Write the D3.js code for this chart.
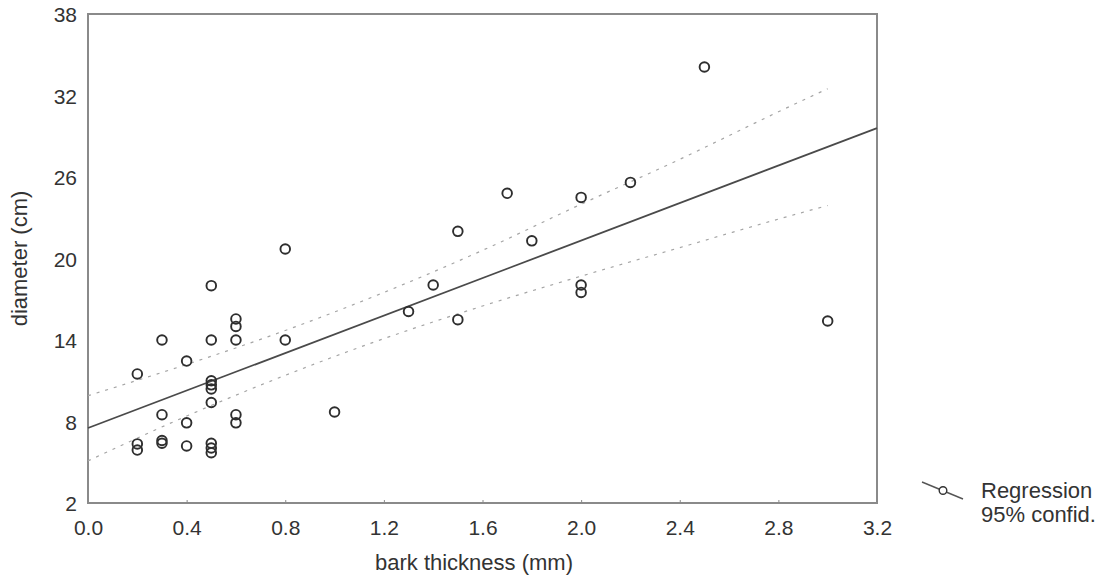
<!DOCTYPE html>
<html lang="en">
<head>
  <meta charset="utf-8">
  <title>diameter vs bark thickness</title>
  <script src="https://d3js.org/d3.v7.min.js"></script>
  <style>
    body { margin: 0; background: #fff; font-family: "Liberation Sans", Arial, sans-serif; }
    text.tick-label { font-size: 21px; fill: #333; }
    text.axis-title { font-size: 22px; fill: #333; }
    text.legend-text { font-size: 22px; fill: #333; }
  </style>
</head>
<body>
<svg id="chart" width="1108" height="581"></svg>
<script>
  // observations: bark thickness (mm) and diameter (cm)
  const barkThickness = [
    0.2, 0.2, 0.2,
    0.3, 0.3, 0.3, 0.3,
    0.4, 0.4, 0.4,
    0.5, 0.5, 0.5, 0.5, 0.5, 0.5, 0.5, 0.5, 0.5,
    0.6, 0.6, 0.6, 0.6, 0.6,
    0.8, 0.8,
    1.0, 1.3, 1.4, 1.5, 1.5, 1.7, 1.8,
    2.0, 2.0, 2.0, 2.2, 2.5, 3.0
  ];
  const diameter = [
    11.5, 6.35, 5.9,
    14.0, 8.5, 6.6, 6.4,
    12.45, 7.9, 6.2,
    18.0, 14.0, 11.0, 10.7, 10.4, 9.4, 6.4, 6.05, 5.7,
    15.55, 15.0, 14.0, 8.5, 7.9,
    20.7, 14.0,
    8.7, 16.1, 18.05, 22.0, 15.5, 24.8, 21.3,
    24.5, 18.05, 17.5, 25.6, 34.1, 15.4
  ];

  // regression line (end points)
  const regX = [0.0, 3.2];
  const regY = [7.52, 29.6];

  // 95% confidence band, read at a few x positions
  const bandX = [0.0, 0.4, 0.8, 1.2, 1.6, 2.0, 2.4, 2.8, 3.0];
  const bandUpper = [9.9, 12.2, 14.7, 17.5, 20.6, 24.0, 27.3, 30.8, 32.5];
  const bandLower = [5.1, 8.4, 11.4, 14.1, 16.5, 18.7, 20.8, 22.9, 23.9];

  const xTicks = [0.0, 0.4, 0.8, 1.2, 1.6, 2.0, 2.4, 2.8, 3.2];
  const yTicks = [2, 8, 14, 20, 26, 32, 38];

  const legendLabels = ["Regression", "95% confid."];

  const margin = { top: 14, right: 231, bottom: 78, left: 88 },
        width = 1108 - margin.left - margin.right,
        height = 581 - margin.top - margin.bottom;

  const svg = d3.select("#chart");
  const g = svg.append("g").attr("transform", `translate(${margin.left},${margin.top})`);

  const x = d3.scaleLinear().domain([0, 3.2]).range([0, width]);
  const y = d3.scaleLinear().domain([2, 38]).range([height, 0]);

  // frame
  g.append("rect")
    .attr("x", 0).attr("y", 0)
    .attr("width", width).attr("height", height)
    .attr("fill", "none")
    .attr("stroke", "#8a8a8a")
    .attr("stroke-width", 2);

  // axes (labels only, the frame draws the lines)
  const xAxis = g.append("g")
    .attr("transform", `translate(0,${height})`)
    .call(d3.axisBottom(x).tickValues(xTicks).tickFormat(d3.format(".1f")).tickSize(3).tickPadding(14));
  xAxis.select(".domain").remove();
  xAxis.selectAll("line").attr("stroke", "#8a8a8a").attr("y2", -3);
  xAxis.selectAll("text").attr("class", "tick-label").attr("dy", "0.71em");
  xAxis.attr("font-size", null).attr("font-family", null);

  const yAxis = g.append("g")
    .call(d3.axisLeft(y).tickValues(yTicks).tickSize(0).tickPadding(11));
  yAxis.select(".domain").remove();
  yAxis.selectAll("text").attr("class", "tick-label").attr("dy", "0.38em");
  yAxis.attr("font-size", null).attr("font-family", null);

  // axis titles
  svg.append("text")
    .attr("class", "axis-title")
    .attr("x", 474)
    .attr("y", 570)
    .attr("text-anchor", "middle")
    .text("bark thickness (mm)");

  svg.append("text")
    .attr("class", "axis-title")
    .attr("transform", `translate(27,${margin.top + y(20)}) rotate(-90)`)
    .attr("text-anchor", "middle")
    .text("diameter (cm)");

  // confidence band
  const bandLine = d3.line().x(d => x(d[0])).y(d => y(d[1])).curve(d3.curveMonotoneX);
  [bandUpper, bandLower].forEach(vals => {
    g.append("path")
      .attr("d", bandLine(bandX.map((v, i) => [v, vals[i]])))
      .attr("fill", "none")
      .attr("stroke", "#a5a5a5")
      .attr("stroke-width", 1.2)
      .attr("stroke-dasharray", "3,6");
  });

  // regression line
  g.append("path")
    .attr("d", d3.line()(regX.map((v, i) => [x(v), y(regY[i])])))
    .attr("fill", "none")
    .attr("stroke", "#4a4a4a")
    .attr("stroke-width", 1.8);

  // points
  g.selectAll("circle.pt")
    .data(barkThickness.map((v, i) => [v, diameter[i]]))
    .enter()
    .append("circle")
    .attr("class", "pt")
    .attr("cx", d => x(d[0]))
    .attr("cy", d => y(d[1]))
    .attr("r", 4.8)
    .attr("fill", "none")
    .attr("stroke", "#2e2e2e")
    .attr("stroke-width", 1.9);

  // legend
  const lg = svg.append("g").attr("transform", "translate(922,482)");
  lg.append("line").attr("x1", 0).attr("y1", 0).attr("x2", 41).attr("y2", 17)
    .attr("stroke", "#555").attr("stroke-width", 1.4);
  lg.append("circle").attr("cx", 21).attr("cy", 8.5).attr("r", 3.8)
    .attr("fill", "#fff").attr("stroke", "#333").attr("stroke-width", 1.4);
  lg.selectAll("text")
    .data(legendLabels)
    .enter()
    .append("text")
    .attr("class", "legend-text")
    .attr("x", 59)
    .attr("y", (d, i) => 16 + i * 24)
    .text(d => d);
</script>
</body>
</html>
